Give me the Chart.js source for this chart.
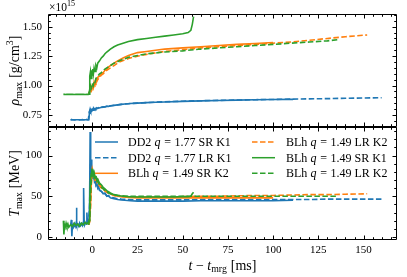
<!DOCTYPE html>
<html>
<head>
<meta charset="utf-8">
<script src="https://cdn.jsdelivr.net/npm/chart.js@4"></script>
<style>
  html, body { margin: 0; padding: 0; background: #fff; }
  #wrap { width: 407px; height: 277px; }
</style>
</head>
<body>
<div id="wrap"><canvas id="chart" width="407" height="277"></canvas></div>
<script>
// rho_max [1e15 g/cm^3] and T_max [MeV] against t - t_mrg [ms]

const xTicks = [0, 25, 50, 75, 100, 125, 150];
const rhoTicks = [0.75, 1.00, 1.25, 1.50];
const tempTicks = [0, 50, 100];

const seriesLabels = [
    'DD2 q = 1.77 SR K1', 'DD2 q = 1.77 LR K1', 'BLh q = 1.49 SR K2',
    'BLh q = 1.49 LR K2', 'BLh q = 1.49 SR K1', 'BLh q = 1.49 LR K2'
];
const seriesColors = ['#1f77b4', '#1f77b4', '#ff7f0e', '#ff7f0e', '#2ca02c', '#2ca02c'];
const seriesDashed = [false, true, false, true, false, true];

// DD2 q=1.77 SR K1
const tDD2SR = [-12, -11.6, -11.3, -11.0, -10.5, -10, -9.5, -9, -8.8, -8.5, -8.2, -7.5, -7, -6.5, -6, -5.5, -5, -4.8, -4.5, -4.2, -3.8, -3.3, -3.0, -2.7, -2.3, -1.9, -1.5, -1.2, -0.9, -0.6, -0.3, 0, 0.4, 0.8, 1.2, 1.6, 2, 2.5, 3, 3.5, 4, 5, 6, 7, 8, 9, 10, 12, 14, 16, 18, 21, 25, 30, 35, 40, 50, 60, 70, 80, 90, 100, 111];
const rhoDD2SR = [0.71, 0.71, 0.711, 0.71, 0.71, 0.709, 0.71, 0.71, 0.711, 0.71, 0.71, 0.71, 0.709, 0.71, 0.71, 0.711, 0.71, 0.71, 0.71, 0.709, 0.71, 0.71, 0.711, 0.71, 0.71, 0.712,
    0.78, 0.80, 0.785, 0.795, 0.79, 0.80, 0.79, 0.805, 0.795, 0.805, 0.80, 0.81, 0.805, 0.812, 0.81, 0.815, 0.82, 0.818, 0.825, 0.823, 0.828, 0.832, 0.836, 0.84, 0.843, 0.847, 0.851, 0.855, 0.858, 0.861, 0.866, 0.870, 0.873, 0.876, 0.879, 0.881, 0.883];
const tempDD2SR = [14, 21, 1, 15, 12, 16, 13, 17, 36, 14, 16, 13, 17, 14, 16, 14, 18, 60, 20, 15, 17, 16, 30, 17, 18, 20,
    40, 129, 70, 95, 78, 85, 72, 76, 68, 70, 64, 66, 60, 62, 57, 56, 53, 54, 50, 51, 48, 47, 46, 45.5, 45, 44.5, 44, 44, 44, 44, 44, 44.5, 44.5, 44.5, 44.5, 44.5, 45];

// DD2 q=1.77 LR K1
const tDD2LR = [-12, -10, -8, -6, -4, -2.2, -1.6, -1.0, -0.5, 0, 0.5, 1, 2, 3, 4, 6, 8, 10, 13, 16, 20, 25, 30, 40, 50, 60, 70, 80, 90, 100, 110, 120, 130, 140, 150, 160];
const rhoDD2LR = [0.71, 0.71, 0.71, 0.71, 0.71, 0.71, 0.78, 0.795, 0.79, 0.80, 0.795, 0.80, 0.805, 0.808, 0.81, 0.817, 0.822, 0.827, 0.834, 0.84, 0.846, 0.851, 0.855, 0.862, 0.867, 0.871, 0.874, 0.877, 0.880, 0.882, 0.885, 0.887, 0.889, 0.892, 0.894, 0.897];
const tempDD2LR = [14, 15, 15, 16, 16, 18, 30, 90, 80, 78, 74, 72, 66, 61, 58, 54, 51, 49, 47.5, 46.5, 46, 45.5, 45.5, 45.5, 45.5, 46, 46, 46, 46, 46, 46, 46, 46.5, 46.5, 46.5, 46.5];

// BLh q=1.49 SR K2
const tBLhSRK2 = [-2, -1.5, -1, -0.5, 0, 0.5, 1, 1.5, 2, 2.5, 3, 4, 5, 6, 7, 8, 9, 10, 12, 14, 17, 20, 25, 30, 35, 40, 50, 60, 70, 80, 90, 100];
const rhoBLhSRK2 = [0.93, 0.95, 0.98, 0.96, 1.00, 0.98, 1.03, 1.01, 1.05, 1.04, 1.07, 1.08, 1.10, 1.11, 1.13, 1.14, 1.16, 1.17, 1.19, 1.21, 1.235, 1.255, 1.28, 1.29, 1.30, 1.31, 1.32, 1.33, 1.34, 1.35, 1.358, 1.366];
const tempBLhSRK2 = [15, 20, 40, 70, 82, 76, 78, 72, 74, 68, 70, 64, 62, 60, 57, 56, 54, 53, 51, 50, 49, 48.5, 48, 48, 48, 48, 48, 48, 48, 48, 48, 48];

// BLh q=1.49 LR K2 (orange)
const tBLhLRK2o = [-2, -1.5, -1, -0.5, 0, 0.5, 1, 1.5, 2, 3, 4, 5, 6, 8, 10, 12, 15, 20, 25, 30, 40, 50, 60, 70, 80, 90, 100, 110, 120, 130, 140, 152];
const rhoBLhLRK2o = [0.93, 0.94, 0.97, 0.95, 0.99, 0.97, 1.01, 1.00, 1.03, 1.05, 1.07, 1.09, 1.10, 1.13, 1.15, 1.17, 1.20, 1.23, 1.25, 1.265, 1.29, 1.305, 1.32, 1.33, 1.34, 1.35, 1.36, 1.37, 1.385, 1.40, 1.415, 1.43];
const tempBLhLRK2o = [15, 18, 35, 65, 80, 74, 76, 70, 71, 66, 63, 60, 58, 55, 53, 51, 50, 49, 49, 49, 49, 49.5, 50, 50, 50.5, 51, 51, 51.5, 52, 52, 52.5, 53];

// BLh q=1.49 SR K1
const tBLhSRK1 = [-16, -15.7, -15.4, -15, -14.5, -14, -13.5, -13, -12, -11, -10, -9, -8, -7, -6, -5, -4, -3, -2.2, -1.8, -1.4, -1, -0.6, -0.3, 0, 0.3, 0.6, 1, 1.5, 2, 2.5, 3, 4, 5, 6, 7, 8, 10, 12, 14, 17, 20, 25, 30, 35, 40, 45, 50, 53, 54.5, 55.3, 56];
const rhoBLhSRK1 = [0.925, 0.925, 0.926, 0.925, 0.924, 0.925, 0.925, 0.926, 0.925, 0.925, 0.924, 0.925, 0.925, 0.926, 0.925, 0.925, 0.924, 0.925, 0.925, 0.926,
    1.08, 1.12, 1.06, 1.13, 1.09, 1.14, 1.10, 1.15, 1.12, 1.17, 1.15, 1.19, 1.21, 1.235, 1.25, 1.27, 1.285, 1.31, 1.33, 1.345, 1.36, 1.375, 1.39, 1.40, 1.41, 1.42, 1.43, 1.44, 1.45, 1.47, 1.52, 1.585];
const tempBLhSRK1 = [20, 3, 15, 12, 17, 13, 16, 12, 15, 13, 17, 14, 16, 13, 17, 15, 18, 16, 18, 20,
    45, 70, 78, 84, 80, 83, 76, 79, 73, 75, 69, 71, 66, 64, 61, 59, 57, 54, 52, 51, 50, 49.5, 49, 49, 49, 49, 49, 49.5, 49.5, 50, 53, 55];

// BLh q=1.49 LR K2 (green)
const tBLhLRK2g = [-2, -1.5, -1, -0.5, 0, 0.5, 1, 1.5, 2, 3, 4, 5, 6, 8, 10, 12, 15, 20, 25, 30, 40, 50, 60, 70, 80, 90, 100, 110, 120, 130, 136];
const rhoBLhLRK2g = [0.93, 0.96, 1.00, 0.98, 1.02, 1.00, 1.04, 1.03, 1.06, 1.08, 1.10, 1.11, 1.13, 1.15, 1.17, 1.19, 1.21, 1.24, 1.255, 1.27, 1.285, 1.295, 1.31, 1.32, 1.33, 1.34, 1.35, 1.36, 1.37, 1.38, 1.39];
const tempBLhLRK2g = [15, 22, 50, 72, 82, 75, 78, 72, 73, 68, 64, 61, 59, 55, 53, 52, 51, 50, 50, 50, 50, 50, 50, 50, 50, 50, 50, 50, 50, 50, 50];

const series = [
    { t: tDD2SR, rho: rhoDD2SR, temp: tempDD2SR },
    { t: tDD2LR, rho: rhoDD2LR, temp: tempDD2LR },
    { t: tBLhSRK2, rho: rhoBLhSRK2, temp: tempBLhSRK2 },
    { t: tBLhLRK2o, rho: rhoBLhLRK2o, temp: tempBLhLRK2o },
    { t: tBLhSRK1, rho: rhoBLhSRK1, temp: tempBLhSRK1 },
    { t: tBLhLRK2g, rho: rhoBLhLRK2g, temp: tempBLhLRK2g }
];

const FONT = "'Liberation Serif', 'Times New Roman', serif";

// 添字付きのテキストを描く
function drawRuns(ctx, runs, x, y, size, align) {
    const parts = runs.map(r => {
        const s = (r.sub || r.sup) ? size * 0.7 : size;
        const font = (r.it ? 'italic ' : '') + s + 'px ' + FONT;
        ctx.font = font;
        const w = r.t ? ctx.measureText(r.t).width : 0;
        return { r, font, w: w + (r.gap || 0), dy: r.sub ? size * 0.2 : (r.sup ? -size * 0.4 : 0) };
    });
    const total = parts.reduce((a, p) => a + p.w, 0);
    let cx = align === 'center' ? x - total / 2 : x;
    ctx.textAlign = 'left';
    ctx.textBaseline = 'alphabetic';
    parts.forEach(p => {
        if (p.r.t) {
            ctx.font = p.font;
            ctx.fillText(p.r.t, cx, y + p.dy);
        }
        cx += p.w;
    });
    return total;
}

const framePlugin = {
    id: 'frame',
    afterDatasetsDraw(chart) {
        const { ctx, chartArea: a, scales } = chart;
        const xs = scales.x;
        ctx.save();
        ctx.strokeStyle = '#000';
        ctx.lineWidth = 1;
        const panels = [
            { ys: scales.yTop, major: rhoTicks, step: 0.05 },
            { ys: scales.yBot, major: tempTicks, step: 10 }
        ];
        panels.forEach(p => {
            const L = Math.round(a.left) + 0.5, R = Math.round(a.right) - 0.5;
            const T = Math.round(p.ys.top) + 0.5, B = Math.round(p.ys.bottom) - 0.5;
            ctx.beginPath();
            ctx.rect(L, T, R - L, B - T);
            ctx.stroke();

            ctx.beginPath();
            for (let k = Math.ceil(xs.min / 5); k * 5 <= xs.max; k++) {
                const v = k * 5;
                const len = xTicks.includes(v) ? 4 : 2.3;
                const px = Math.round(xs.getPixelForValue(v)) + 0.5;
                ctx.moveTo(px, B); ctx.lineTo(px, B - len);
                ctx.moveTo(px, T); ctx.lineTo(px, T + len);
            }
            for (let k = Math.ceil(p.ys.min / p.step - 1e-9); k * p.step <= p.ys.max + 1e-9; k++) {
                const v = k * p.step;
                const len = p.major.some(m => Math.abs(m - v) < 1e-6) ? 4 : 2.3;
                const py = Math.round(p.ys.getPixelForValue(v)) + 0.5;
                ctx.moveTo(L, py); ctx.lineTo(L + len, py);
                ctx.moveTo(R, py); ctx.lineTo(R - len, py);
            }
            ctx.stroke();
        });
        ctx.restore();
    }
};

const textPlugin = {
    id: 'texts',
    afterDraw(chart) {
        const { ctx, chartArea: a, scales } = chart;
        ctx.save();
        ctx.fillStyle = '#000';

        // 凡例（2列×3行）
        const colX = [[95, 118, 128], [252, 275, 286]];
        const rowY = [142, 157.7, 173.3];
        seriesLabels.forEach((label, i) => {
            const col = Math.floor(i / 3), row = i % 3;
            const [x0, x1, xt] = colX[col];
            const y = rowY[row];
            ctx.save();
            ctx.strokeStyle = seriesColors[i];
            ctx.lineWidth = 1.5;
            ctx.setLineDash(seriesDashed[i] ? [5.5, 2.5] : []);
            ctx.beginPath();
            ctx.moveTo(x0, y); ctx.lineTo(x1, y);
            ctx.stroke();
            ctx.restore();
            const [pre, post] = label.split(' q = ');
            drawRuns(ctx, [
                { t: pre, gap: 3.2 }, { t: 'q', it: true, gap: 3.6 }, { t: '=', gap: 3.6 }, { t: post }
            ], xt, y + 4, 12, 'left');
        });

        // 軸タイトル
        const cxTitle = (a.left + a.right) / 2;
        drawRuns(ctx, [
            { t: 't', it: true, gap: 3.5 }, { t: '\u2212', gap: 3.5 }, { t: 't', it: true }, { t: 'mrg', sub: true, gap: 4 }, { t: '[ms]' }
        ], cxTitle, 269.5, 14, 'center');

        const yTitles = [
            { ys: scales.yTop, runs: [{ t: '\u03c1', it: true }, { t: 'max', sub: true, gap: 4 }, { t: '[g/cm' }, { t: '3', sup: true }, { t: ']' }] },
            { ys: scales.yBot, runs: [{ t: 'T', it: true }, { t: 'max', sub: true, gap: 4 }, { t: '[MeV]' }] }
        ];
        yTitles.forEach(o => {
            ctx.save();
            ctx.translate(19, (o.ys.top + o.ys.bottom) / 2);
            ctx.rotate(-Math.PI / 2);
            drawRuns(ctx, o.runs, 0, 0, 14, 'center');
            ctx.restore();
        });

        // オフセット表記
        drawRuns(ctx, [{ t: '\u00d710' }, { t: '15', sup: true }], a.left + 1, 11, 11.5, 'left');
        ctx.restore();
    }
};

const datasets = [];
series.forEach((s, i) => {
    const common = {
        label: seriesLabels[i],
        borderColor: seriesColors[i],
        backgroundColor: seriesColors[i],
        borderWidth: 1.6,
        borderDash: seriesDashed[i] ? [5.5, 2.5] : [],
        pointRadius: 0,
        tension: 0,
        fill: false,
        order: 5 - i
    };
    datasets.push(Object.assign({}, common, {
        yAxisID: 'yTop',
        data: s.t.map((t, k) => ({ x: t, y: s.rho[k] }))
    }));
    datasets.push(Object.assign({}, common, {
        yAxisID: 'yBot',
        data: s.t.map((t, k) => ({ x: t, y: s.temp[k] }))
    }));
});

const tickFont = { family: FONT, size: 11 };

new Chart(document.getElementById('chart'), {
    type: 'line',
    data: { datasets },
    options: {
        responsive: false,
        animation: false,
        devicePixelRatio: 1,
        events: [],
        layout: { padding: { top: 14, right: 10, left: 0, bottom: 0 } },
        plugins: { legend: { display: false }, tooltip: { enabled: false } },
        scales: {
            x: {
                type: 'linear',
                min: -24.5,
                max: 168.5,
                afterBuildTicks: s => { s.ticks = xTicks.map(v => ({ value: v })); },
                afterFit: s => { s.height = 37; },
                grid: { display: false, drawTicks: false },
                border: { display: false },
                ticks: { color: '#000', font: tickFont, padding: 4, maxRotation: 0, autoSkip: false, callback: v => String(v) }
            },
            yTop: {
                type: 'linear',
                position: 'left',
                stack: 'panels',
                stackWeight: 1,
                weight: 2,
                min: 0.648,
                max: 1.608,
                afterBuildTicks: s => { s.ticks = rhoTicks.map(v => ({ value: v })); },
                afterFit: s => { s.width = 48; },
                grid: { display: false, drawTicks: false },
                border: { display: false },
                ticks: { color: '#000', font: tickFont, padding: 6, autoSkip: false, callback: v => Number(v).toFixed(2) }
            },
            yBot: {
                type: 'linear',
                position: 'left',
                stack: 'panels',
                stackWeight: 1,
                weight: 1,
                min: -3.7,
                max: 135,
                afterBuildTicks: s => { s.ticks = tempTicks.map(v => ({ value: v })); },
                afterFit: s => { s.width = 48; },
                grid: { display: false, drawTicks: false },
                border: { display: false },
                ticks: { color: '#000', font: tickFont, padding: 6, autoSkip: false, callback: v => String(v) }
            }
        }
    },
    plugins: [framePlugin, textPlugin]
});
</script>
</body>
</html>
